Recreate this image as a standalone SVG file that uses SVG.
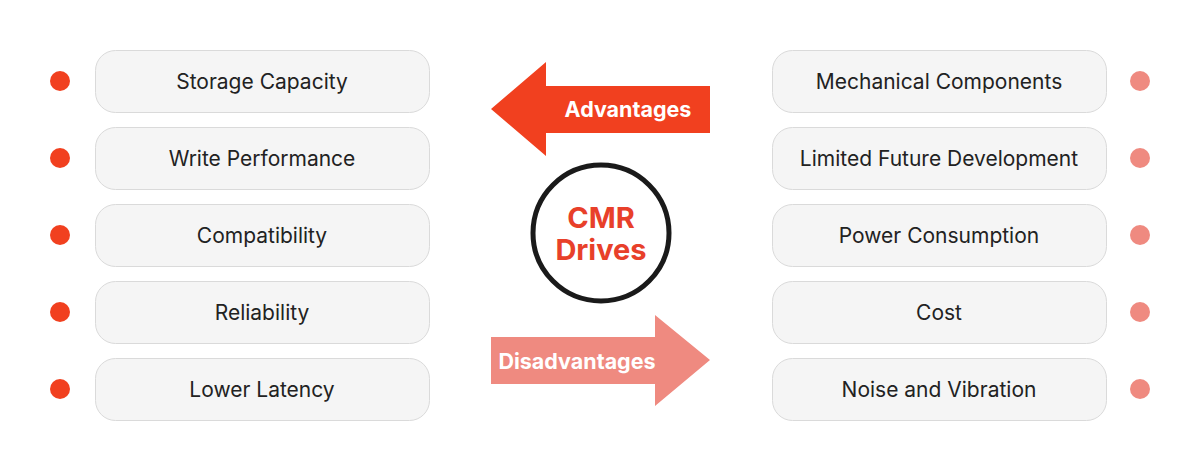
<svg xmlns="http://www.w3.org/2000/svg" width="1200" height="470" viewBox="0 0 1200 470">
<style>
.box{fill:#f5f5f5;stroke:#dadada;stroke-width:1}
.lbl{font-family:Inter,"Liberation Sans",sans-serif;font-size:21px;fill:#222;text-anchor:middle;dominant-baseline:central}
.dotA{fill:#f1401f}
.dotD{fill:#ef8a80}
.arrowT{font-family:Inter,"Liberation Sans",sans-serif;font-size:21.5px;font-weight:700;fill:#fff;text-anchor:middle;dominant-baseline:central}
.center{font-family:Inter,"Liberation Sans",sans-serif;font-size:29px;font-weight:700;fill:#e8402a;text-anchor:middle}
</style>
<rect width="1200" height="470" fill="#fff"/>
<g id="adv-1"><circle class="dotA" cx="60" cy="81" r="10"/><rect class="box" x="95.5" y="50.5" width="334" height="62" rx="20"/><text class="lbl" x="262" y="81">Storage Capacity</text></g>
<g id="adv-2"><circle class="dotA" cx="60" cy="158" r="10"/><rect class="box" x="95.5" y="127.5" width="334" height="62" rx="20"/><text class="lbl" x="262" y="158">Write Performance</text></g>
<g id="adv-3"><circle class="dotA" cx="60" cy="235" r="10"/><rect class="box" x="95.5" y="204.5" width="334" height="62" rx="20"/><text class="lbl" x="262" y="235">Compatibility</text></g>
<g id="adv-4"><circle class="dotA" cx="60" cy="312" r="10"/><rect class="box" x="95.5" y="281.5" width="334" height="62" rx="20"/><text class="lbl" x="262" y="312">Reliability</text></g>
<g id="adv-5"><circle class="dotA" cx="60" cy="389" r="10"/><rect class="box" x="95.5" y="358.5" width="334" height="62" rx="20"/><text class="lbl" x="262" y="389">Lower Latency</text></g>
<g id="dis-1"><rect class="box" x="772.5" y="50.5" width="334" height="62" rx="20"/><text class="lbl" x="939" y="81">Mechanical Components</text><circle class="dotD" cx="1140" cy="81" r="10"/></g>
<g id="dis-2"><rect class="box" x="772.5" y="127.5" width="334" height="62" rx="20"/><text class="lbl" x="939" y="158">Limited Future Development</text><circle class="dotD" cx="1140" cy="158" r="10"/></g>
<g id="dis-3"><rect class="box" x="772.5" y="204.5" width="334" height="62" rx="20"/><text class="lbl" x="939" y="235">Power Consumption</text><circle class="dotD" cx="1140" cy="235" r="10"/></g>
<g id="dis-4"><rect class="box" x="772.5" y="281.5" width="334" height="62" rx="20"/><text class="lbl" x="939" y="312">Cost</text><circle class="dotD" cx="1140" cy="312" r="10"/></g>
<g id="dis-5"><rect class="box" x="772.5" y="358.5" width="334" height="62" rx="20"/><text class="lbl" x="939" y="389">Noise and Vibration</text><circle class="dotD" cx="1140" cy="389" r="10"/></g>
<g id="center"><circle cx="601" cy="233" r="68" fill="#fff" stroke="#1a1a1a" stroke-width="5"/><text class="center" x="601" y="228">CMR</text><text class="center" x="601" y="260">Drives</text></g>
<g id="connectors">
<g id="arrow-advantages"><polygon points="491,109 546,62 546,86 710,86 710,133 546,133 546,156" fill="#f1401f"/><text class="arrowT" x="628" y="109">Advantages</text></g>
<g id="arrow-disadvantages"><polygon points="491,337 655,337 655,315 710,360 655,406 655,384 491,384" fill="#ef8a80"/><text class="arrowT" x="577" y="361">Disadvantages</text></g>
</g>
</svg>
